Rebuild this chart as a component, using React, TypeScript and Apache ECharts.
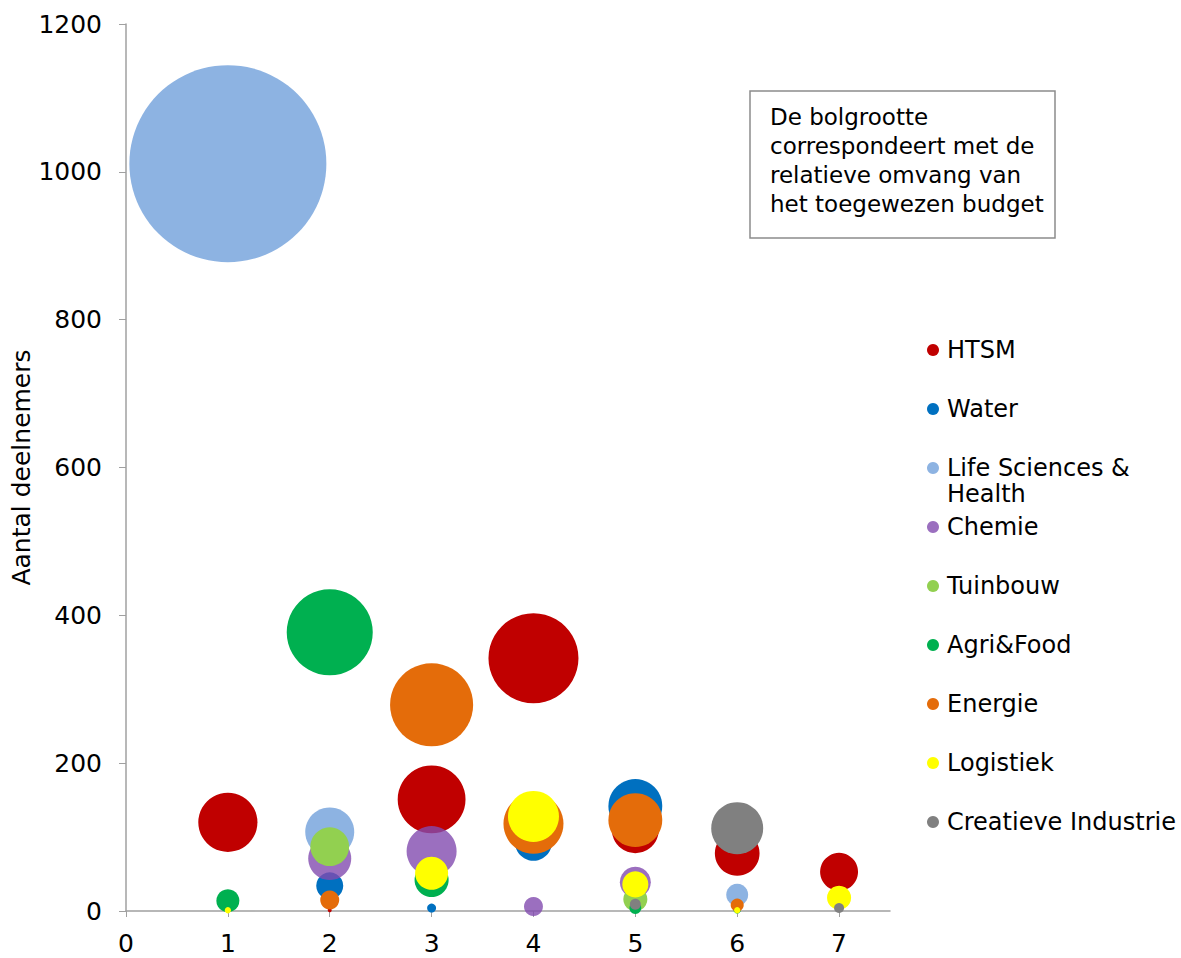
import React, { useEffect, useRef } from "react";
import * as echarts from "echarts";

const seriesNames = [
  "HTSM",
  "Water",
  "Life Sciences & Health",
  "Chemie",
  "Tuinbouw",
  "Agri&Food",
  "Energie",
  "Logistiek",
  "Creatieve Industrie",
];
const legendLabels = [
  "HTSM",
  "Water",
  "Life Sciences &\nHealth",
  "Chemie",
  "Tuinbouw",
  "Agri&Food",
  "Energie",
  "Logistiek",
  "Creatieve Industrie",
];
const seriesColors = [
  "#C00000",
  "#0070C0",
  "#8DB3E2",
  "rgba(130,75,175,0.8)",
  "#92D050",
  "#00B050",
  "#E46C0A",
  "#FFFF00",
  "#808080",
];
const legendColors = [
  "#C00000",
  "#0070C0",
  "#8DB3E2",
  "#9B6FBF",
  "#92D050",
  "#00B050",
  "#E46C0A",
  "#FFFF00",
  "#808080",
];

// [x, aantal deelnemers, relatief budget]
const htsm = [[1, 120, 35], [2, 1, 0.16], [3, 151, 46], [4, 342, 81], [5, 110, 22], [6, 78, 20], [7, 53, 14.4]];
const water = [[2, 34, 7.3], [3, 4, 0.8], [4, 93, 13.7], [5, 142, 29]];
const lifeSciences = [[1, 1011, 388], [2, 107, 24], [6, 22, 4.8]];
const chemie = [[2, 71, 18.5], [3, 81, 25], [4, 6, 3.6], [5, 39, 9.6]];
const tuinbouw = [[2, 87, 15], [5, 16, 5.8]];
const agriFood = [[1, 14, 5.3], [2, 377, 74], [3, 42, 11.6], [5, 4, 1.4], [6, 2, 0.6]];
const energie = [[2, 15, 3.6], [3, 279, 69], [4, 118, 36], [5, 123, 29], [6, 8, 1.7]];
const logistiek = [[1, 1, 0.4], [3, 51, 10.9], [4, 128, 26], [5, 36, 6.8], [6, 1, 0.4], [7, 18, 5.8]];
const creatieve = [[5, 9, 1.2], [6, 112, 27], [7, 4, 1.0]];

const allData = [htsm, water, lifeSciences, chemie, tuinbouw, agriFood, energie, logistiek, creatieve];

const xTicks = [0, 1, 2, 3, 4, 5, 6, 7];
const infoText = "De bolgrootte\ncorrespondeert met de\nrelatieve omvang van\nhet toegewezen budget";
const yAxisTitle = "Aantal deelnemers";

const FONT = "'DejaVu Sans', Verdana, sans-serif";

export default function App() {
  const ref = useRef<HTMLDivElement>(null);
  useEffect(() => {
    if (!ref.current) return;
    const chart = echarts.init(ref.current, null, { renderer: "svg" });
    const maxSize = Math.max(...allData.flat().map((d) => d[2]));
    const maxDiameter = 197;

    const legendGraphics: any[] = [];
    legendLabels.forEach((label, i) => {
      const cy = 350 + i * 59;
      legendGraphics.push({
        type: "circle",
        shape: { cx: 933, cy, r: 6 },
        style: { fill: legendColors[i] },
      });
      legendGraphics.push({
        type: "text",
        x: 947,
        y: cy - 13,
        style: {
          text: label,
          fill: "#000",
          font: `24px ${FONT}`,
          lineHeight: 26,
          verticalAlign: "top",
          align: "left",
        },
      });
    });

    chart.setOption({
      animation: false,
      backgroundColor: "#fff",
      grid: { left: 126, right: 291, top: 24, bottom: 47, containLabel: false, outerBoundsMode: "none" },
      xAxis: {
        type: "value",
        min: 0,
        max: 7.5,
        interval: 1,
        splitLine: { show: false },
        axisLine: { lineStyle: { color: "#A0A0A0", width: 1.5 } },
        axisTick: { show: true, length: 6, customValues: xTicks, lineStyle: { color: "#A0A0A0" } },
        axisLabel: {
          customValues: xTicks,
          color: "#000",
          fontSize: 25,
          fontFamily: FONT,
          margin: 20,
        },
      },
      yAxis: {
        type: "value",
        min: 0,
        max: 1200,
        interval: 200,
        name: yAxisTitle,
        nameLocation: "middle",
        nameGap: 92,
        nameMoveOverlap: false,
        nameTextStyle: { color: "#000", fontSize: 25, fontFamily: FONT },
        splitLine: { show: false },
        axisLine: { show: true, lineStyle: { color: "#A0A0A0", width: 1.5 } },
        axisTick: { show: true, length: 7, lineStyle: { color: "#A0A0A0" } },
        axisLabel: {
          color: "#000",
          fontSize: 25,
          fontFamily: FONT,
          margin: 24,
          formatter: (v: number) => String(v),
        },
      },
      series: seriesNames.map((name, i) => ({
        name,
        type: "scatter",
        data: allData[i],
        symbol: "circle",
        symbolSize: (val: number[]) => maxDiameter * Math.sqrt(val[2] / maxSize),
        itemStyle: { color: seriesColors[i], opacity: 1 },
        z: 2,
      })),
      graphic: [
        {
          type: "rect",
          shape: { x: 750, y: 91, width: 305, height: 147 },
          style: { fill: "#fff", stroke: "#8C8C8C", lineWidth: 1.5 },
        },
        {
          type: "text",
          x: 770,
          y: 102,
          style: {
            text: infoText,
            fill: "#000",
            font: `23px ${FONT}`,
            lineHeight: 29,
            verticalAlign: "top",
            align: "left",
          },
        },
        ...legendGraphics,
      ],
    });
    return () => chart.dispose();
  }, []);
  return (
    <div
      ref={ref}
      style={{ position: "fixed", left: 0, top: 0, width: 1181, height: 958, background: "#fff" }}
    />
  );
}
